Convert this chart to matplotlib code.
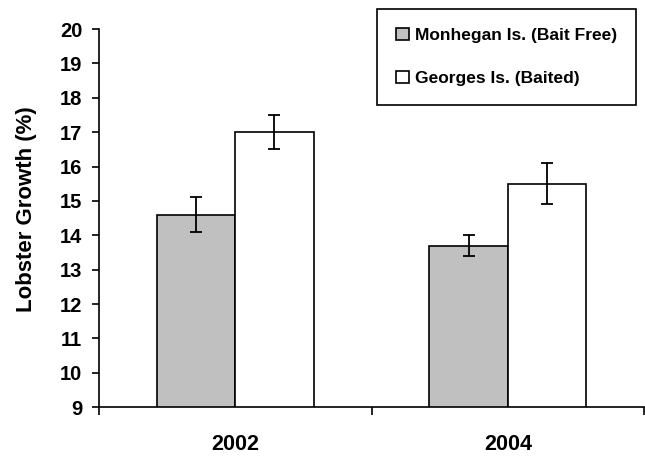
import matplotlib.pyplot as plt
import numpy as np

plt.rcParams['font.family'] = ['Liberation Sans', 'DejaVu Sans']

years = ['2002', '2004']
bait_free = [14.6, 13.7]
bait_free_err = [0.5, 0.3]
baited = [17.0, 15.5]
baited_err = [0.5, 0.6]
labels = ['Monhegan Is. (Bait Free)', 'Georges Is. (Baited)']

fig = plt.figure(figsize=(6.45, 4.57), dpi=100)
ax = fig.add_axes([0.1535, 0.109, 0.845, 0.8275])

x = np.arange(len(years))
w = 0.2875
ax.bar(x - w/2, bait_free, w, color='#c0c0c0', edgecolor='black', linewidth=1.2,
       label=labels[0], zorder=2)
ax.bar(x + w/2, baited, w, color='white', edgecolor='black', linewidth=1.2,
       label=labels[1], zorder=2)
ax.errorbar(x - w/2, bait_free, yerr=bait_free_err, fmt='none', ecolor='black',
            elinewidth=1.3, capsize=4, capthick=1.3, zorder=3)
ax.errorbar(x + w/2, baited, yerr=baited_err, fmt='none', ecolor='black',
            elinewidth=1.3, capsize=4, capthick=1.3, zorder=3)

ax.set_ylim(9, 20)
ax.set_xlim(-0.5, 1.5)
ax.set_yticks(range(9, 21))
ax.set_xticks([-0.5, 0.5, 1.5])
ax.set_xticklabels([])
ax.set_xticks(x, minor=True)
ax.set_xticklabels(years, minor=True, fontsize=15.5, fontweight='bold')
ax.tick_params(axis='x', which='minor', length=0, pad=19)
ax.tick_params(axis='x', which='major', direction='out', length=6, width=1.2)
ax.tick_params(axis='y', direction='out', length=5, width=1.2, labelsize=14.5, pad=7)
for t in ax.get_yticklabels():
    t.set_fontweight('bold')

ax.spines['top'].set_visible(False)
ax.spines['right'].set_visible(False)
ax.spines['left'].set_linewidth(1.2)
ax.spines['bottom'].set_linewidth(1.2)

ax.set_ylabel('Lobster Growth (%)', fontsize=16, fontweight='bold')
ax.yaxis.set_label_coords(-0.114, 0.5225)

leg = ax.legend(loc='upper right', bbox_to_anchor=(0.985, 1.053), borderaxespad=0,
                fancybox=False, edgecolor='black', framealpha=1,
                handlelength=0.7, handleheight=0.7, handletextpad=0.35,
                labelspacing=1.6, borderpad=1.1,
                prop={'weight': 'bold', 'size': 12.5})
leg.get_frame().set_linewidth(1.2)

fig.savefig('out.png', dpi=100)
